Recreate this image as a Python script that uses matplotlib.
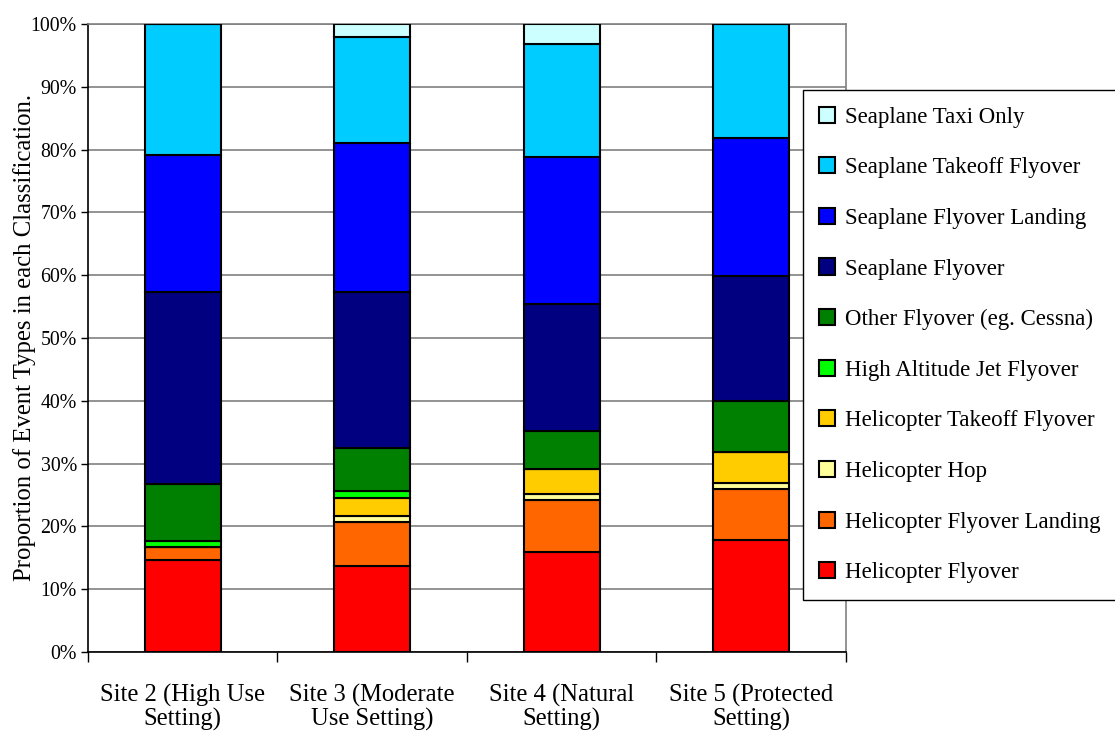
import matplotlib
matplotlib.use("Agg")
import matplotlib.pyplot as plt
import numpy as np

plt.rcParams['font.family'] = ['Liberation Serif', 'DejaVu Serif']

sites = ["Site 2 (High Use\nSetting)", "Site 3 (Moderate\nUse Setting)",
         "Site 4 (Natural\nSetting)", "Site 5 (Protected\nSetting)"]

# stacked from bottom to top (percent)
series_names = ["Helicopter Flyover", "Helicopter Flyover Landing", "Helicopter Hop",
                "Helicopter Takeoff Flyover", "High Altitude Jet Flyover",
                "Other Flyover (eg. Cessna)", "Seaplane Flyover",
                "Seaplane Flyover Landing", "Seaplane Takeoff Flyover", "Seaplane Taxi Only"]
helicopter_flyover = [14.7, 13.7, 16.0, 17.9]
helicopter_flyover_landing = [2.0, 7.0, 8.2, 8.0]
helicopter_hop = [0.0, 1.0, 1.0, 1.0]
helicopter_takeoff = [0.0, 2.9, 4.0, 5.0]
jet_flyover = [1.0, 1.0, 0.0, 0.0]
other_flyover = [9.0, 6.9, 6.0, 8.0]
seaplane_flyover = [30.6, 24.8, 20.2, 20.0]
seaplane_landing = [21.8, 23.8, 23.4, 22.0]
seaplane_takeoff = [20.9, 16.9, 18.0, 18.1]
seaplane_taxi = [0.0, 2.0, 3.2, 0.0]
series_values = [helicopter_flyover, helicopter_flyover_landing, helicopter_hop,
                 helicopter_takeoff, jet_flyover, other_flyover, seaplane_flyover,
                 seaplane_landing, seaplane_takeoff, seaplane_taxi]
colors = ["#FF0000", "#FF6600", "#FFFF99", "#FFCC00", "#00FF00",
          "#008000", "#000080", "#0000FF", "#00CCFF", "#CCFFFF"]

yticks = np.arange(0, 101, 10)
ytick_labels = [f"{v}%" for v in yticks]

fig = plt.figure(figsize=(11.15, 7.33), dpi=100)
ax = fig.add_axes([0.0789, 0.1105, 0.6798, 0.8568])

x = np.arange(len(sites))
bottom = np.zeros(len(sites))
handles = []
for name, vals, c in zip(series_names, series_values, colors):
    vals = np.array(vals, dtype=float)
    b = ax.bar(x, vals, width=0.4, bottom=bottom, color=c, edgecolor="black",
               linewidth=1.5, label=name, zorder=3)
    handles.append(b)
    bottom += vals

ax.set_xlim(-0.5, 3.5)
ax.set_ylim(0, 100)
ax.set_yticks(yticks)
ax.set_yticklabels(ytick_labels, fontsize=14.3)
ax.yaxis.grid(True, color="#808080", linewidth=1.2, zorder=0)
ax.set_xticks(x)
ax.set_xticklabels(sites, fontsize=17.7, linespacing=1.05)
ax.tick_params(axis='x', which='major', length=0, pad=23)
ax.set_xticks(np.arange(-0.5, 3.6, 1.0), minor=True)
ax.tick_params(axis='x', which='minor', length=7, width=1, direction='out')
ax.tick_params(axis='y', length=5, width=1, direction='out', pad=3)
for s in ['top', 'right']:
    ax.spines[s].set_color("#808080")
    ax.spines[s].set_linewidth(1.2)
for s in ['left', 'bottom']:
    ax.spines[s].set_color("black")
    ax.spines[s].set_linewidth(1.2)

ax.set_ylabel("Proportion of Event Types in each Classification.", fontsize=17.8, labelpad=-4)

leg = fig.legend(handles[::-1], series_names[::-1], loc='upper left',
                 bbox_to_anchor=(0.72, 0.877), fontsize=16.5, frameon=True,
                 fancybox=False, edgecolor="black", framealpha=1,
                 handlelength=0.7, handleheight=0.7, handletextpad=0.42,
                 labelspacing=1.29, borderpad=0.72, borderaxespad=0)
leg.get_frame().set_linewidth(1.0)

fig.savefig("out.png", dpi=100)
